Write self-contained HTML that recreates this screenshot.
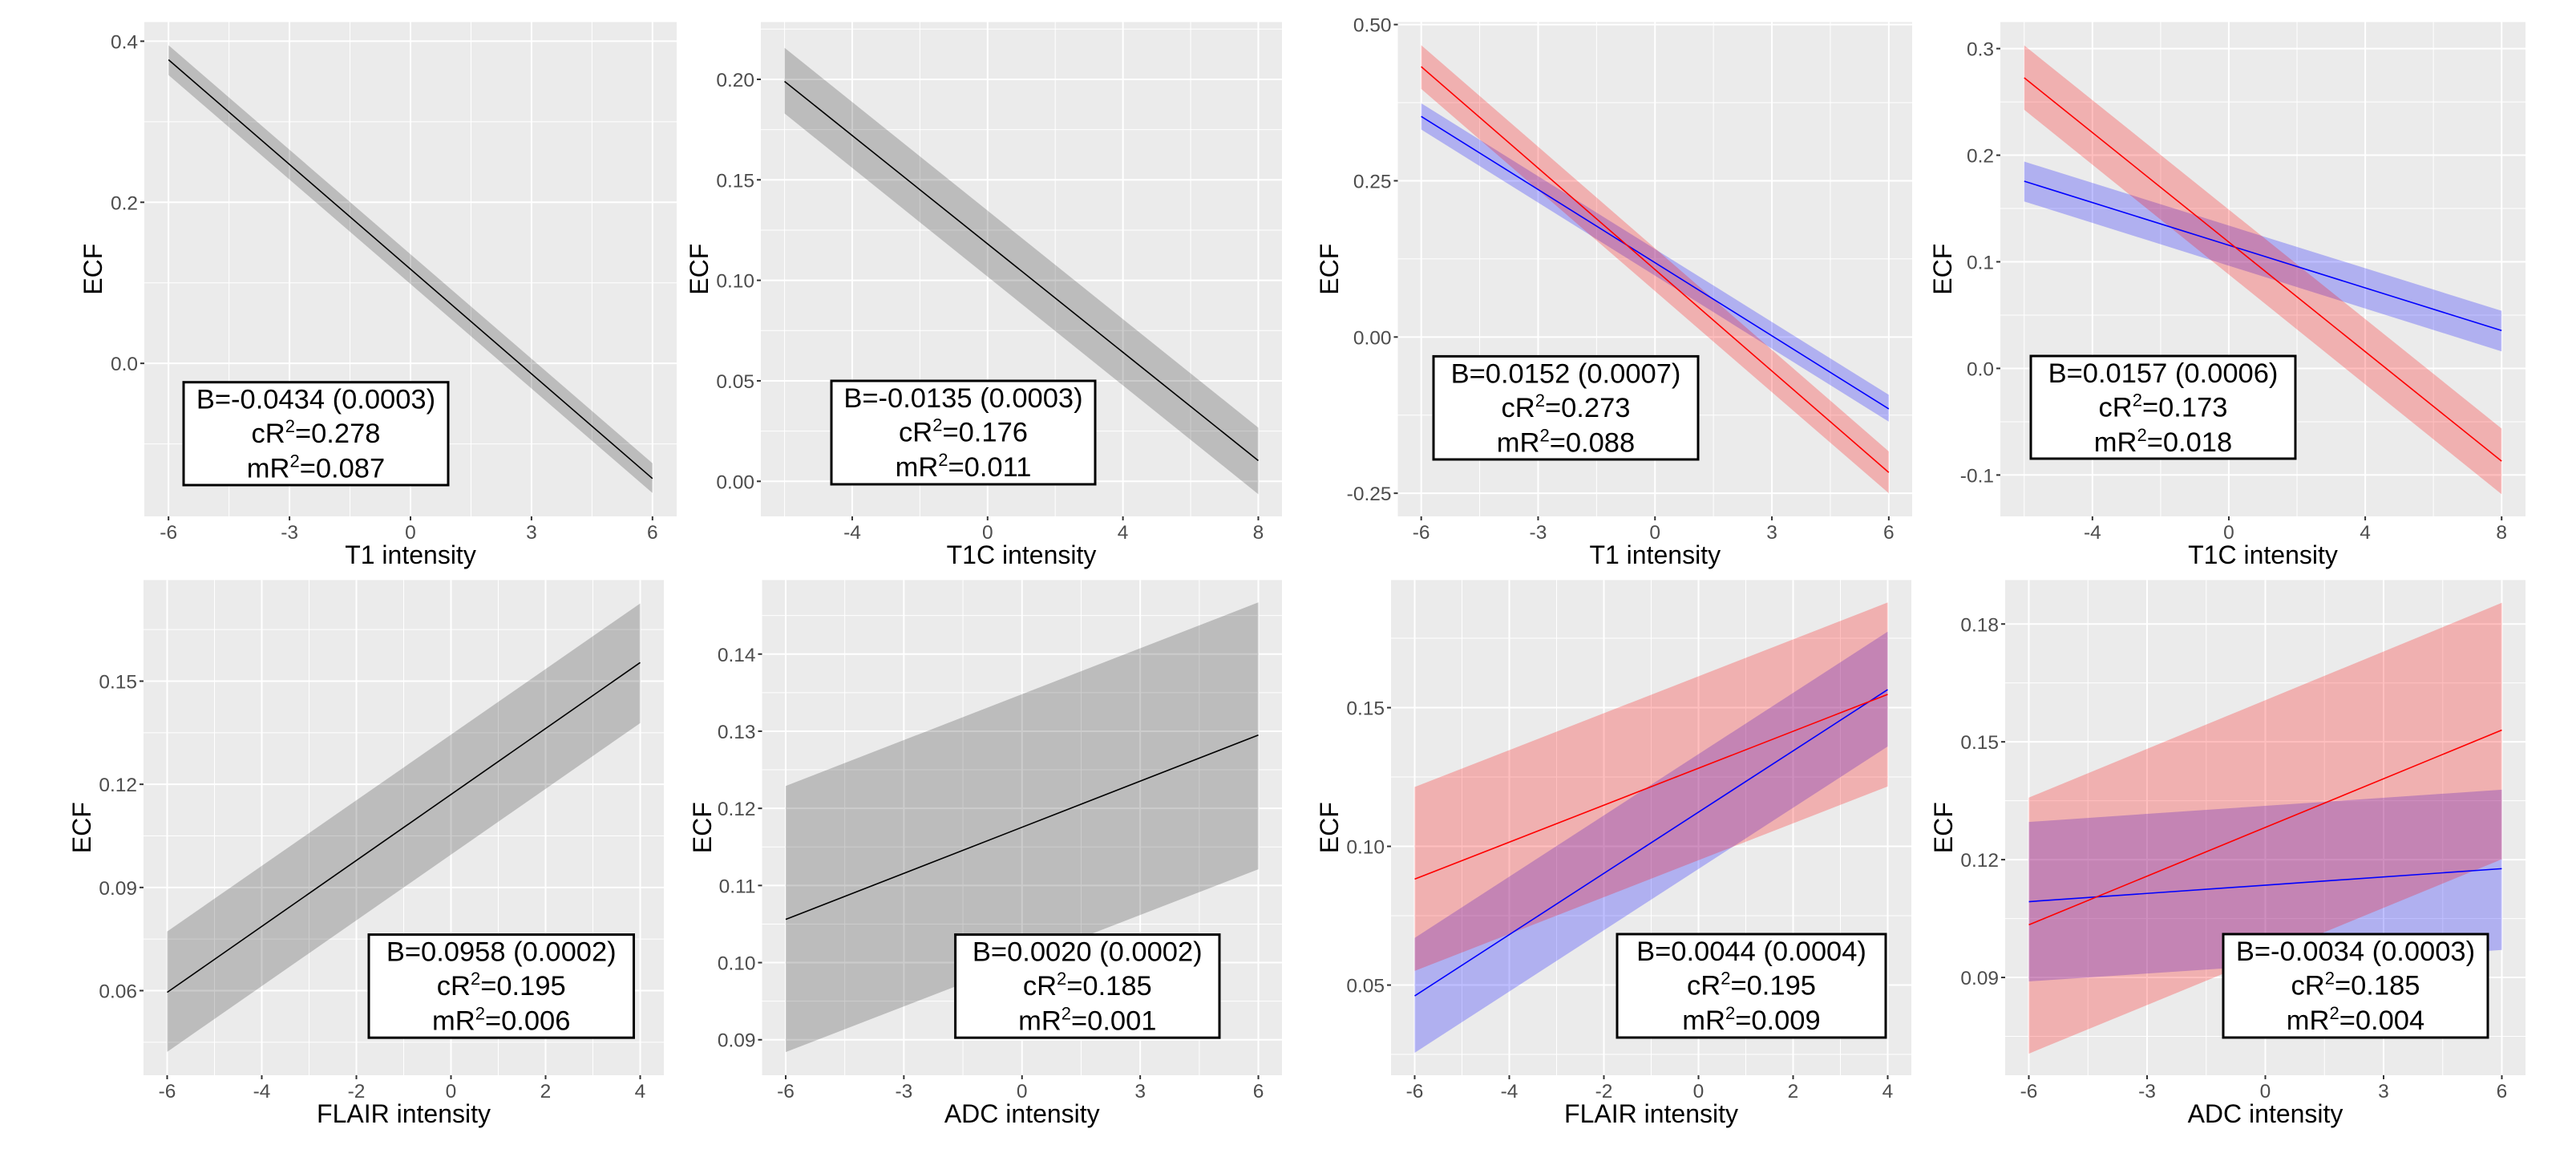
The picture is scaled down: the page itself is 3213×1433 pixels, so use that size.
<!DOCTYPE html>
<html><head><meta charset="utf-8">
<style>
html,body{margin:0;padding:0;background:#fff;}
svg{display:block;font-family:"Liberation Sans",Arial,sans-serif;}
</style></head>
<body>
<svg id="fig" width="3213" height="1433" viewBox="0 0 3213 1433" xmlns="http://www.w3.org/2000/svg"></svg>
<script>
// ---- data: x endpoints, fitted line, lower & upper CI ----
const p1X=[-6,6], p1Fit=[0.377,-0.143], p1Lo=[0.358,-0.161], p1Hi=[0.395,-0.124];
const p2X=[-6,8], p2Fit=[0.199,0.0103], p2Lo=[0.183,-0.0064], p2Hi=[0.2157,0.0267];
const p3X=[-6,6], p3RedFit=[0.4326,-0.2167], p3RedLo=[0.397,-0.250], p3RedHi=[0.467,-0.183];
const p3BlueFit=[0.353,-0.115], p3BlueLo=[0.332,-0.1355], p3BlueHi=[0.374,-0.0925];
const p4X=[-6,8], p4RedFit=[0.2726,-0.087], p4RedLo=[0.2426,-0.118], p4RedHi=[0.303,-0.0564];
const p4BlueFit=[0.1756,0.0355], p4BlueLo=[0.1566,0.016], p4BlueHi=[0.194,0.054];
const p5X=[-6,4], p5Fit=[0.0595,0.1554], p5Lo=[0.0422,0.1378], p5Hi=[0.0772,0.1726];
const p6X=[-6,6], p6Fit=[0.1056,0.1295], p6Lo=[0.0884,0.1121], p6Hi=[0.1229,0.1467];
const p7X=[-6,4], p7RedFit=[0.0882,0.1548], p7RedLo=[0.0551,0.1216], p7RedHi=[0.1214,0.1879];
const p7BlueFit=[0.0461,0.1565], p7BlueLo=[0.0256,0.136], p7BlueHi=[0.067,0.1774];
const p8X=[-6,6], p8RedFit=[0.1034,0.1530], p8RedLo=[0.0706,0.1201], p8RedHi=[0.1358,0.1854];
const p8BlueFit=[0.1093,0.1177], p8BlueLo=[0.0890,0.0970], p8BlueHi=[0.1296,0.1378];
// ---- tick values and labels ----
const p1XTicks=[-6,-3,0,3,6], p1XLabels=["-6","-3","0","3","6"];
const p1YTicks=[0,0.2,0.4], p1YLabels=["0.0","0.2","0.4"];
const p2XTicks=[-4,0,4,8], p2XLabels=["-4","0","4","8"];
const p2YTicks=[0,0.05,0.1,0.15,0.2], p2YLabels=["0.00","0.05","0.10","0.15","0.20"];
const p3XTicks=[-6,-3,0,3,6], p3XLabels=["-6","-3","0","3","6"];
const p3YTicks=[-0.25,0,0.25,0.5], p3YLabels=["-0.25","0.00","0.25","0.50"];
const p4XTicks=[-4,0,4,8], p4XLabels=["-4","0","4","8"];
const p4YTicks=[-0.1,0,0.1,0.2,0.3], p4YLabels=["-0.1","0.0","0.1","0.2","0.3"];
const p5XTicks=[-6,-4,-2,0,2,4], p5XLabels=["-6","-4","-2","0","2","4"];
const p5YTicks=[0.06,0.09,0.12,0.15], p5YLabels=["0.06","0.09","0.12","0.15"];
const p6XTicks=[-6,-3,0,3,6], p6XLabels=["-6","-3","0","3","6"];
const p6YTicks=[0.09,0.1,0.11,0.12,0.13,0.14], p6YLabels=["0.09","0.10","0.11","0.12","0.13","0.14"];
const p7XTicks=[-6,-4,-2,0,2,4], p7XLabels=["-6","-4","-2","0","2","4"];
const p7YTicks=[0.05,0.1,0.15], p7YLabels=["0.05","0.10","0.15"];
const p8XTicks=[-6,-3,0,3,6], p8XLabels=["-6","-3","0","3","6"];
const p8YTicks=[0.09,0.12,0.15,0.18], p8YLabels=["0.09","0.12","0.15","0.18"];
const statB=["B=-0.0434 (0.0003)","B=-0.0135 (0.0003)","B=0.0152 (0.0007)","B=0.0157 (0.0006)","B=0.0958 (0.0002)","B=0.0020 (0.0002)","B=0.0044 (0.0004)","B=-0.0034 (0.0003)"];
const statC=["0.278","0.176","0.273","0.173","0.195","0.185","0.195","0.185"];
const statM=["0.087","0.011","0.088","0.018","0.006","0.001","0.009","0.004"];
const xTitles=["T1 intensity","T1C intensity","T1 intensity","T1C intensity","FLAIR intensity","ADC intensity","FLAIR intensity","ADC intensity"];

const NS="http://www.w3.org/2000/svg";
const svg=document.getElementById('fig');
function mk(tag,attrs,parent){const e=document.createElementNS(NS,tag);for(const k in attrs)e.setAttribute(k,attrs[k]);(parent||svg).appendChild(e);return e;}

const panels=[
 {rect:[180,844,27.5,644],xd:[-6.6,6.6],yd:[0.4238,-0.190],xt:p1XTicks,xl:p1XLabels,yt:p1YTicks,yl:p1YLabels,xs:1.5,ys:0.1,
  series:[{x:p1X,fit:p1Fit,lo:p1Lo,hi:p1Hi,c:"#000",f:"#000",o:0.2}],box:[229,559,476.7,605],ecf:116},
 {rect:[949,1599,27.5,644],xd:[-6.7,8.7],yd:[0.2285,-0.01744],xt:p2XTicks,xl:p2XLabels,yt:p2YTicks,yl:p2YLabels,xs:2,ys:0.025,
  series:[{x:p2X,fit:p2Fit,lo:p2Lo,hi:p2Hi,c:"#000",f:"#000",o:0.2}],box:[1037,1366,475,604],ecf:872},
 {rect:[1743.5,2385,27.5,644],xd:[-6.6,6.6],yd:[0.504,-0.287],xt:p3XTicks,xl:p3XLabels,yt:p3YTicks,yl:p3YLabels,xs:1.5,ys:0.125,
  series:[{x:p3X,fit:p3BlueFit,lo:p3BlueLo,hi:p3BlueHi,c:"#0000ff",f:"#0000ff",o:0.25},{x:p3X,fit:p3RedFit,lo:p3RedLo,hi:p3RedHi,c:"#ff0000",f:"#ff0000",o:0.25}],box:[1788,2118,444.4,573],ecf:1658},
 {rect:[2495,3150,27.5,644],xd:[-6.7,8.7],yd:[0.3249,-0.1388],xt:p4XTicks,xl:p4XLabels,yt:p4YTicks,yl:p4YLabels,xs:2,ys:0.05,
  series:[{x:p4X,fit:p4BlueFit,lo:p4BlueLo,hi:p4BlueHi,c:"#0000ff",f:"#0000ff",o:0.25},{x:p4X,fit:p4RedFit,lo:p4RedLo,hi:p4RedHi,c:"#ff0000",f:"#ff0000",o:0.25}],box:[2533,2863,444,572],ecf:2423},
 {rect:[179,828,723.4,1341],xd:[-6.5,4.5],yd:[0.1794,0.0354],xt:p5XTicks,xl:p5XLabels,yt:p5YTicks,yl:p5YLabels,xs:1,ys:0.015,
  series:[{x:p5X,fit:p5Fit,lo:p5Lo,hi:p5Hi,c:"#000",f:"#000",o:0.2}],box:[460,790.5,1165.6,1294.2],ecf:102},
 {rect:[950.5,1599,723.4,1341],xd:[-6.6,6.6],yd:[0.1496,0.0854],xt:p6XTicks,xl:p6XLabels,yt:p6YTicks,yl:p6YLabels,xs:1.5,ys:0.005,
  series:[{x:p6X,fit:p6Fit,lo:p6Lo,hi:p6Hi,c:"#000",f:"#000",o:0.2}],box:[1191.6,1521,1165.6,1294.2],ecf:876},
 {rect:[1735,2384,723.4,1341],xd:[-6.5,4.5],yd:[0.1960,0.0175],xt:p7XTicks,xl:p7XLabels,yt:p7YTicks,yl:p7YLabels,xs:1,ys:0.025,
  series:[{x:p7X,fit:p7BlueFit,lo:p7BlueLo,hi:p7BlueHi,c:"#0000ff",f:"#0000ff",o:0.25},{x:p7X,fit:p7RedFit,lo:p7RedLo,hi:p7RedHi,c:"#ff0000",f:"#ff0000",o:0.25}],box:[2017,2352,1165,1294],ecf:1658},
 {rect:[2501,3150,723.4,1341],xd:[-6.6,6.6],yd:[0.1912,0.0651],xt:p8XTicks,xl:p8XLabels,yt:p8YTicks,yl:p8YLabels,xs:1.5,ys:0.015,
  series:[{x:p8X,fit:p8BlueFit,lo:p8BlueLo,hi:p8BlueHi,c:"#0000ff",f:"#0000ff",o:0.25},{x:p8X,fit:p8RedFit,lo:p8RedLo,hi:p8RedHi,c:"#ff0000",f:"#ff0000",o:0.25}],box:[2773,3103,1165,1294],ecf:2424}
];

panels.forEach((p,i)=>{
  const [x0,x1,y0,y1]=p.rect;
  const sx=v=>x0+(v-p.xd[0])/(p.xd[1]-p.xd[0])*(x1-x0);
  const sy=v=>y0+(v-p.yd[0])/(p.yd[1]-p.yd[0])*(y1-y0);
  const g=mk('g',{});
  
  
  const bg=mk('rect',{x:x0,y:y0,width:x1-x0,height:y1-y0,fill:'#ebebeb'},g);
  
  
  const xmin=Math.min(...p.xt)-p.xs, xmax=Math.max(...p.xt)+p.xs;
  for(let v=xmin;v<=xmax+1e-9;v+=2*p.xs){const X=sx(v);if(X>x0&&X<x1){const l=mk('line',{x1:X,x2:X,y1:y0,y2:y1,stroke:'#fff','stroke-width':1},g);}}
  const ymin=Math.min(...p.yt)-p.ys, ymax=Math.max(...p.yt)+p.ys;
  for(let v=ymin;v<=ymax+1e-9;v+=2*p.ys){const Y=sy(v);if(Y>y0&&Y<y1){const l=mk('line',{x1:x0,x2:x1,y1:Y,y2:Y,stroke:'#fff','stroke-width':1},g);}}
  p.xt.forEach((v,k)=>{const X=sx(v);
    const l=mk('line',{x1:X,x2:X,y1:y0,y2:y1,stroke:'#fff','stroke-width':2},g);
    const t=mk('line',{x1:X,x2:X,y1:y1,y2:y1+5,stroke:'#333','stroke-width':2},g);
    const tx=mk('text',{x:X,y:y1+28,'text-anchor':'middle','font-size':24.5,fill:'#4d4d4d'},g);tx.textContent=p.xl[k];});
  p.yt.forEach((v,k)=>{const Y=sy(v);
    const l=mk('line',{x1:x0,x2:x1,y1:Y,y2:Y,stroke:'#fff','stroke-width':2},g);
    const t=mk('line',{x1:x0-5,x2:x0,y1:Y,y2:Y,stroke:'#333','stroke-width':2},g);
    const tx=mk('text',{x:x0-8,y:Y+9,'text-anchor':'end','font-size':24.5,fill:'#4d4d4d'},g);tx.textContent=p.yl[k];});
  p.series.forEach(s=>{
    const pts=[];s.x.forEach((v,k)=>pts.push(sx(v)+','+sy(s.hi[k])));
    for(let k=s.x.length-1;k>=0;k--)pts.push(sx(s.x[k])+','+sy(s.lo[k]));
    const r=mk('polygon',{points:pts.join(' '),fill:s.f,'fill-opacity':s.o},g);
    
    
  });
  p.series.forEach(s=>{
    const pts=s.x.map((v,k)=>sx(v)+','+sy(s.fit[k])).join(' ');
    const ln=mk('polyline',{points:pts,fill:'none',stroke:s.c,'stroke-width':1.6},g);
    
    
  });
  const [bx0,bx1,by0,by1]=p.box;const cx=(bx0+bx1)/2;
  const bxr=mk('rect',{x:bx0,y:by0,width:bx1-bx0,height:by1-by0,fill:'#fff',stroke:'#000','stroke-width':3},g);
  
  
  const t1=mk('text',{x:cx,y:by0+33,'text-anchor':'middle','font-size':34.5,fill:'#000'},g);t1.textContent=statB[i];
  
  const t2=mk('text',{x:cx,y:by0+75.5,'text-anchor':'middle','font-size':34.5,fill:'#000'},g);
  t2.innerHTML='cR<tspan font-size="22" dy="-13">2</tspan><tspan dy="13">='+statC[i]+'</tspan>';
  
  const t3=mk('text',{x:cx,y:by0+119,'text-anchor':'middle','font-size':34.5,fill:'#000'},g);
  t3.innerHTML='mR<tspan font-size="22" dy="-13">2</tspan><tspan dy="13">='+statM[i]+'</tspan>';
  
  const xt=mk('text',{x:(x0+x1)/2,y:y1+59,'text-anchor':'middle','font-size':32,fill:'#000'},g);xt.textContent=xTitles[i];
  
  const yc=(y0+y1)/2;
  const yt=mk('text',{x:p.ecf+11,y:yc,'text-anchor':'middle','font-size':32,fill:'#000',transform:'rotate(-90 '+(p.ecf+11)+' '+yc+')'},g);yt.textContent='ECF';
  
});
</script>
</body></html>
